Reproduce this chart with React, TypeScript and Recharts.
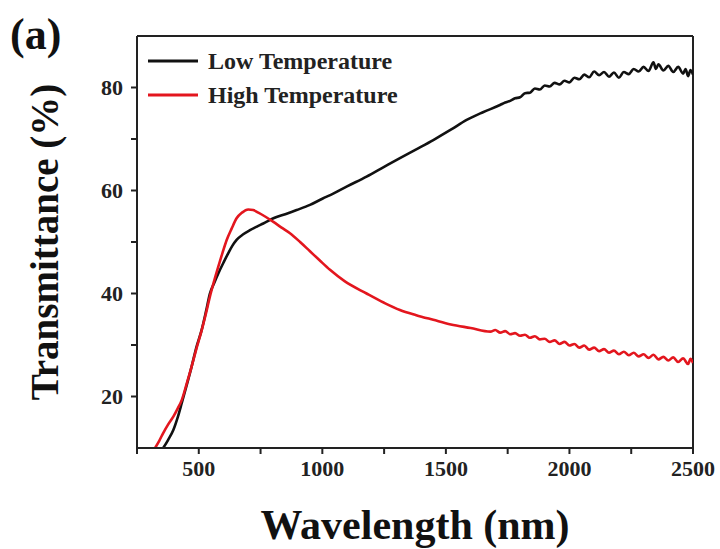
import React from 'react';
import { LineChart, Line, XAxis, YAxis, ReferenceLine } from 'recharts';

// values: [wavelength nm, transmittance %]
const lowTemperature: [number, number][] = [
  [356, 10], [375, 11.5], [397, 13.5], [415, 16], [431, 18.7], [450, 22], [471, 25.8], [490, 29.5],
  [512, 33], [530, 36.7], [545, 40], [562, 42], [579, 43.9], [600, 46], [619, 47.8], [635, 49.2],
  [653, 50.4], [680, 51.5], [707, 52.3], [735, 53], [761, 53.6], [802, 54.6], [850, 55.4], [896, 56.2],
  [950, 57.2], [1000, 58.4], [1044, 59.4], [1100, 60.8], [1179, 62.7], [1250, 64.6], [1314, 66.3],
  [1380, 68], [1449, 69.8], [1520, 71.8], [1584, 73.7], [1650, 75.2], [1719, 76.6],
  // noisy tail
  [1740, 77.1], [1760, 77.4], [1780, 77.9], [1800, 78.1], [1820, 78.9], [1840, 79.0], [1860, 79.8],
  [1880, 79.6], [1900, 80.4], [1920, 80.2], [1940, 80.9], [1960, 80.6], [1980, 81.3], [2000, 81.0],
  [2020, 81.9], [2040, 81.6], [2060, 82.5], [2080, 82.0], [2100, 83.1], [2120, 82.4], [2140, 83.0],
  [2160, 82.1], [2180, 82.9], [2200, 81.9], [2220, 83.0], [2240, 82.6], [2260, 83.6], [2280, 83.1],
  [2300, 84.0], [2320, 83.2], [2340, 84.9], [2350, 83.6], [2360, 84.5], [2380, 83.3], [2400, 84.2],
  [2420, 83.0], [2440, 84.0], [2460, 82.7], [2470, 83.6], [2480, 82.2], [2490, 83.4], [2500, 82.5],
];

const highTemperature: [number, number][] = [
  [323, 10], [340, 11.4], [356, 12.9], [375, 14.5], [397, 16.1], [415, 17.7], [431, 19.3], [450, 22.3],
  [471, 25.8], [490, 29.2], [512, 32.9], [530, 36.3], [545, 39.4], [562, 42.4], [579, 45.2], [596, 47.9],
  [613, 50.4], [633, 52.6], [653, 54.6], [675, 55.7], [700, 56.3], [720, 56.2], [741, 55.7], [770, 54.9],
  [802, 53.9], [835, 52.8], [869, 51.7], [910, 50], [950, 48.2], [990, 46.4], [1031, 44.6], [1090, 42.4],
  [1179, 40], [1250, 38.2], [1314, 36.8], [1380, 35.8], [1449, 34.9], [1520, 34], [1600, 33.3], [1680, 32.6],
  // noisy tail
  [1700, 32.9], [1720, 32.4], [1740, 32.7], [1760, 32.1], [1780, 32.3], [1800, 31.8], [1820, 32.0],
  [1840, 31.4], [1860, 31.7], [1880, 31.1], [1900, 31.2], [1920, 30.6], [1940, 30.9], [1960, 30.2],
  [1980, 30.6], [2000, 29.9], [2020, 30.2], [2040, 29.5], [2060, 29.9], [2080, 29.1], [2100, 29.5],
  [2120, 28.8], [2140, 29.2], [2160, 28.5], [2180, 28.9], [2200, 28.2], [2220, 28.7], [2240, 28.0],
  [2260, 28.5], [2280, 27.8], [2300, 28.2], [2320, 27.5], [2340, 28.1], [2360, 27.2], [2380, 27.7],
  [2400, 27.0], [2420, 27.6], [2440, 26.7], [2460, 27.4], [2480, 26.3], [2490, 27.3], [2500, 26.5],
];

const xTicks = [250, 500, 750, 1000, 1250, 1500, 1750, 2000, 2250, 2500];
const xLabels = [500, 1000, 1500, 2000, 2500];
const yTicks = [20, 30, 40, 50, 60, 70, 80];
const yLabels = [20, 40, 60, 80];

const seriesNames = ['Low Temperature', 'High Temperature'];
const seriesColors = ['#111111', '#e3161e'];

const toRows = (pts: [number, number][]) => pts.map(([wl, t]) => ({ wl, t }));

const serif = '"Liberation Serif", "Times New Roman", serif';
const axisColor = '#222';

const LegendBox = () => (
  <div
    style={{
      position: 'absolute',
      left: 148,
      top: 44,
      fontFamily: serif,
      fontWeight: 'bold',
      fontSize: 24,
      color: '#222',
    }}
  >
    {seriesNames.map((name, i) => (
      <div key={name} style={{ display: 'flex', alignItems: 'center', height: 34 }}>
        <svg width={50} height={4} style={{ marginRight: 10 }}>
          <line x1={0} y1={2} x2={50} y2={2} stroke={seriesColors[i]} strokeWidth={3} />
        </svg>
        <span>{name}</span>
      </div>
    ))}
  </div>
);

export default function App() {
  return (
    <div style={{ position: 'absolute', left: 0, top: 0, width: 720, height: 549, background: '#fff' }}>
      <LineChart width={720} height={549} margin={{ top: 36, right: 27, left: 0, bottom: 0 }}>
        <XAxis
          type="number"
          dataKey="wl"
          domain={[250, 2500]}
          ticks={xTicks}
          tickFormatter={(v: number) => (xLabels.includes(v) ? String(v) : '')}
          allowDataOverflow
          height={101}
          stroke={axisColor}
          strokeWidth={2}
          tickSize={6}
          tickMargin={6}
          tick={{ fontFamily: serif, fontWeight: 'bold', fontSize: 22, fill: axisColor }}
          label={{
            value: 'Wavelength (nm)',
            position: 'center',
            dy: 26,
            style: { fontFamily: serif, fontWeight: 'bold', fontSize: 42, fill: '#111' },
          }}
        />
        <YAxis
          type="number"
          dataKey="t"
          domain={[10, 90]}
          ticks={yTicks}
          tickFormatter={(v: number) => (yLabels.includes(v) ? String(v) : '')}
          allowDataOverflow
          width={137}
          stroke={axisColor}
          strokeWidth={2}
          tickSize={6}
          tickMargin={8}
          tick={{ fontFamily: serif, fontWeight: 'bold', fontSize: 22, fill: axisColor }}
          label={{
            value: 'Transmittance (%)',
            angle: -90,
            position: 'center',
            dx: -24,
            style: { fontFamily: serif, fontWeight: 'bold', fontSize: 39, fill: '#111' },
          }}
        />
        <ReferenceLine y={90} stroke={axisColor} strokeWidth={2} />
        <ReferenceLine x={2500} stroke={axisColor} strokeWidth={2} />
        <Line
          name={seriesNames[0]}
          data={toRows(lowTemperature)}
          dataKey="t"
          type="monotone"
          stroke={seriesColors[0]}
          strokeWidth={2.6}
          dot={false}
          isAnimationActive={false}
        />
        <Line
          name={seriesNames[1]}
          data={toRows(highTemperature)}
          dataKey="t"
          type="monotone"
          stroke={seriesColors[1]}
          strokeWidth={2.6}
          dot={false}
          isAnimationActive={false}
        />
      </LineChart>
      <LegendBox />
      <div
        style={{
          position: 'absolute',
          left: 10,
          top: 10,
          fontFamily: serif,
          fontWeight: 'bold',
          fontSize: 44,
          lineHeight: '50px',
          color: '#111',
        }}
      >
        (a)
      </div>
    </div>
  );
}
